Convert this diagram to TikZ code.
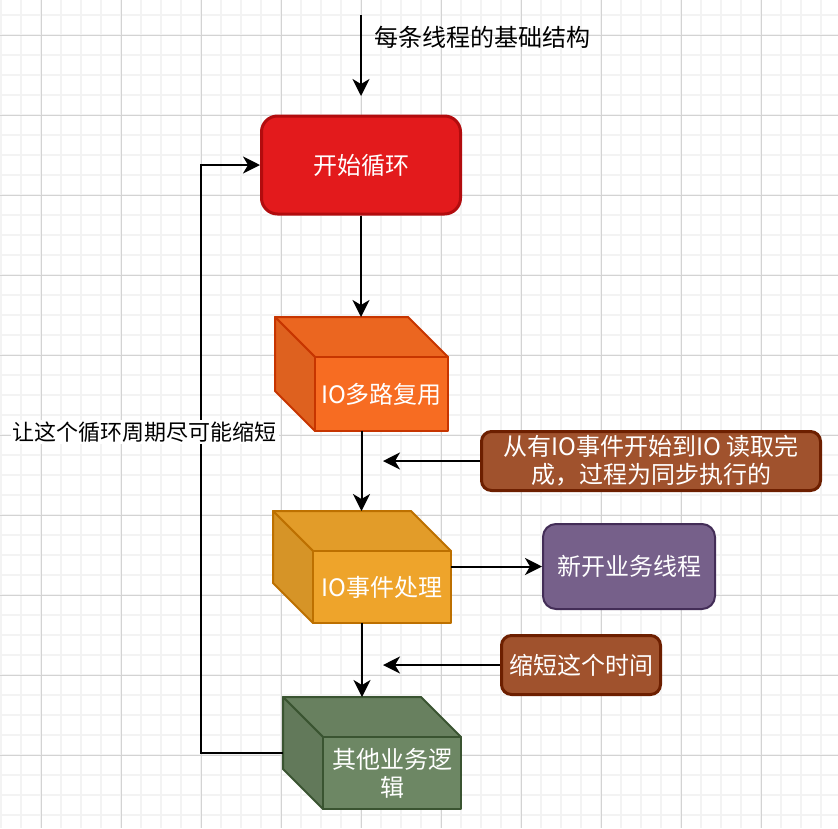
\documentclass[tikz,border=0pt]{standalone}
\usepackage{fontspec}
\setmainfont{Noto Sans CJK SC}
\usetikzlibrary{arrows.meta,calc}
\definecolor{gridminor}{HTML}{F3F3F3}
\definecolor{gridmajor}{HTML}{D3D3D3}
\definecolor{redfill}{HTML}{E31A1C}
\definecolor{redline}{HTML}{B20C0E}
\definecolor{orfront}{HTML}{F76C22}
\definecolor{ortop}{HTML}{EB6620}
\definecolor{orside}{HTML}{DE611F}
\definecolor{orline}{HTML}{C73500}
\definecolor{amfront}{HTML}{EEA42B}
\definecolor{amtop}{HTML}{E29C29}
\definecolor{amside}{HTML}{D69427}
\definecolor{amline}{HTML}{BD7000}
\definecolor{grfront}{HTML}{6D8764}
\definecolor{grtop}{HTML}{68805F}
\definecolor{grside}{HTML}{62795A}
\definecolor{grline}{HTML}{3A5431}
\definecolor{pufill}{HTML}{76608A}
\definecolor{puline}{HTML}{432D57}
\definecolor{brfill}{HTML}{A0522D}
\definecolor{brline}{HTML}{6D1F00}
\newcommand\drawcube[5]{%
  \path[fill=#3,draw=#5,line width=2pt,line join=round]
    (#1.north west) -- ($(#1.north east)+(-40,0)$) -- ($(#1.north east)+(0,40)$)
    -- ($(#1.north west)+(40,40)$) -- cycle;
  \path[fill=#4,draw=#5,line width=2pt,line join=round]
    (#1.north west) -- ($(#1.north west)+(40,40)$) -- ($(#1.south west)+(40,0)$)
    -- ($(#1.south west)+(0,-40)$) -- cycle;
  \path[fill=#2,draw=#5,line width=2pt,line join=round]
    ($(#1.north west)+(40,40)$) rectangle (#1.south east);
}
\begin{document}
\begin{tikzpicture}[x=1pt,y=-1pt,
  conn/.style={line width=2pt,draw=black,-{Stealth[length=17pt,width=17pt,inset=5pt]}},
  cubebox/.style={inner sep=0pt,outer sep=0pt},
  boxtext/.style={text=white,font=\fontsize{24pt}{28pt}\selectfont,align=center,inner sep=0pt},
  roundbox/.style={rounded corners=15pt,line width=2pt,text=white,
    font=\fontsize{24pt}{28pt}\selectfont,align=center,inner sep=0pt},
  notebox/.style={rounded corners=10pt,line width=3pt,fill=brfill,draw=brline,text=white,
    font=\fontsize{24pt}{28pt}\selectfont,align=center,inner sep=0pt},
  plainlabel/.style={text=black,font=\fontsize{24pt}{28pt}\selectfont,inner sep=0pt}
]
\useasboundingbox (0,0) rectangle (838,828);
\fill[white] (0,0) rectangle (838,828);
% grid
\foreach \x in {1,21,...,821} \draw[gridminor,line width=2pt] (\x,0) -- (\x,828);
\foreach \y in {15,35,...,815} \draw[gridminor,line width=2pt] (0,\y) -- (838,\y);
\foreach \x in {41,121,...,761} \draw[gridmajor,line width=1pt] (\x,0) -- (\x,828);
\foreach \y in {35,115,...,755} \draw[gridmajor,line width=1pt] (0,\y) -- (838,\y);

% top entry arrow
\coordinate (topstart) at (361,15);
\coordinate (topend) at (361,96);
\draw[conn] (topstart) -- (topend);
\node[plainlabel,anchor=west] (toplabel) at (374,37) {每条线程的基础结构};

% start loop box
\node[roundbox,rounded corners=16pt,line width=3pt,fill=redfill,draw=redline,
  minimum width=199pt,minimum height=98pt] (start) at (361,165) {开始循环};

% cubes
\node[cubebox,minimum width=173pt,minimum height=114pt] (mux) at (361.5,374) {};
\drawcube{mux}{orfront}{ortop}{orside}{orline}
\node[boxtext] (muxt) at ($(mux.center)+(20,20)$) {IO多路复用};

\node[cubebox,minimum width=178pt,minimum height=112pt] (evt) at (362,567) {};
\drawcube{evt}{amfront}{amtop}{amside}{amline}
\node[boxtext] (evtt) at ($(evt.center)+(20,20)$) {IO事件处理};

\node[cubebox,minimum width=178pt,minimum height=112pt] (biz) at (372,753) {};
\drawcube{biz}{grfront}{grtop}{grside}{grline}
\node[boxtext] (bizt) at ($(biz.center)+(20,20)$) {其他业务逻\\辑};

% new thread box
\node[roundbox,rounded corners=13pt,fill=pufill,draw=puline,
  minimum width=172pt,minimum height=85pt] (newthr) at (629,566.5) {新开业务线程};

% notes
\node[notebox,minimum width=339pt,minimum height=59pt] (note1) at (651,461) {从有IO事件开始到IO 读取完\\成，过程为同步执行的};
\node[notebox,minimum width=159pt,minimum height=59pt] (note2) at (581,665) {缩短这个时间};

% main flow connectors
\draw[conn] (start.south) -- (start.south |- mux.north);
\draw[conn] (mux.south) -- (mux.south |- evt.north);
\draw[conn] (evt.south) -- (evt.south |- biz.north);
\draw[conn] (newthr.west -| evt.east) -- (newthr.west);

% note arrows
\coordinate (notetipx) at (383,0);
\draw[conn] (note1.west) -- (note1.west -| notetipx);
\draw[conn] (note2.west) -- (note2.west -| notetipx);

% loop back
\coordinate (loopx) at (201,0);
\draw[conn] (biz.west) -- (biz.west -| loopx) |- (start.west);
\node[plainlabel,fill=white,inner sep=2pt,font=\fontsize{22pt}{26pt}\selectfont] (looplabel) at (144.5,432) {让这个循环周期尽可能缩短};
\end{tikzpicture}
\end{document}
